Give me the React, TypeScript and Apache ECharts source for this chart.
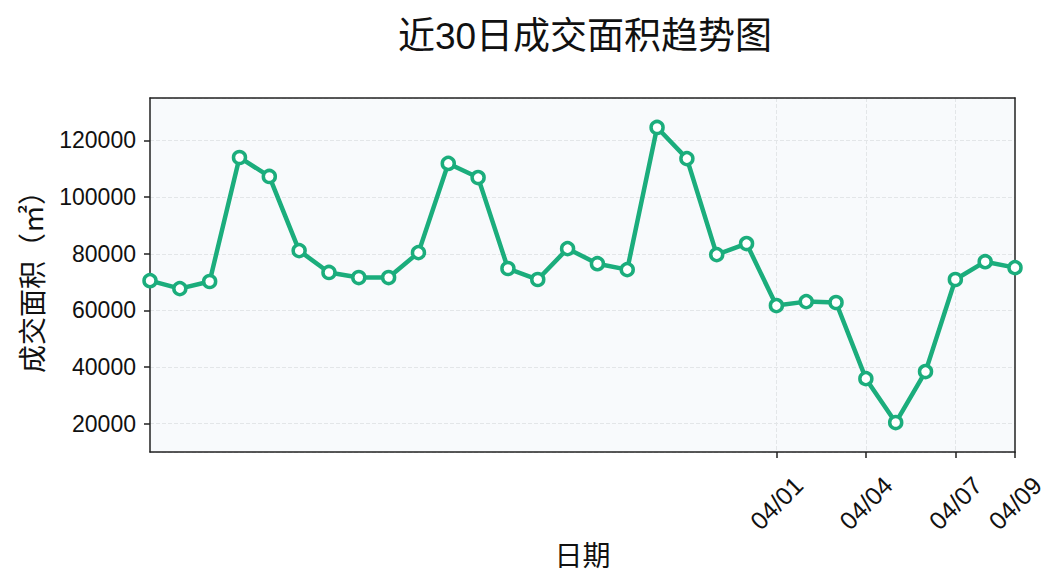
import React, { useEffect, useRef } from "react";
import * as echarts from "echarts";

const dates: string[] = [
  "03/11", "03/12", "03/13", "03/14", "03/15", "03/16", "03/17", "03/18", "03/19", "03/20",
  "03/21", "03/22", "03/23", "03/24", "03/25", "03/26", "03/27", "03/28", "03/29", "03/30",
  "03/31", "04/01", "04/02", "04/03", "04/04", "04/05", "04/06", "04/07", "04/08", "04/09",
];
const areas: number[] = [
  70500, 67700, 70200, 114000, 107300, 81100, 73400, 71600, 71600, 80400,
  111900, 106900, 74800, 70900, 81800, 76500, 74400, 124600, 113600, 79700,
  83600, 61700, 63100, 62800, 35900, 20400, 38400, 70900, 77200, 75100,
];
const labelDates: string[] = ["04/01", "04/04", "04/07", "04/09"];
const gridDates: string[] = ["04/01", "04/04", "04/07"];

const titleText = "近30日成交面积趋势图";
const yName = "成交面积（㎡）";
const xName = "日期";

const FONT = "'Liberation Sans', 'Noto Sans CJK SC', sans-serif";
const GREEN = "#1bad7c";
const DARK = "#222222";

export default function App() {
  const ref = useRef<HTMLDivElement>(null);
  useEffect(() => {
    if (!ref.current) return;
    const chart = echarts.init(ref.current, null, { renderer: "svg" });
    chart.setOption({
      animation: false,
      backgroundColor: "#ffffff",
      textStyle: { fontFamily: FONT },
      title: {
        text: titleText,
        left: 580,
        textAlign: "center",
        top: 13,
        textStyle: { fontSize: 37, fontWeight: "normal", color: "#111", fontFamily: FONT },
      },
      grid: {
        left: 150,
        right: 49,
        top: 98,
        bottom: 133,
        show: true,
        backgroundColor: "#f8fafc",
        borderWidth: 0,
      },
      xAxis: [
        {
          type: "category",
          data: dates,
          boundaryGap: false,
          name: xName,
          nameLocation: "middle",
          nameGap: 90,
          nameTextStyle: { fontSize: 28, color: "#111", fontFamily: FONT },
          axisLine: { lineStyle: { color: DARK, width: 1.5 } },
          axisTick: {
            show: true,
            length: 6,
            lineStyle: { color: DARK, width: 1.5 },
            interval: (i: number, v: string) => labelDates.includes(v),
          },
          axisLabel: {
            interval: (i: number, v: string) => labelDates.includes(v),
            rotate: 45,
            align: "center",
            verticalAlign: "middle",
            margin: 51,
            fontSize: 25,
            color: "#111",
            fontFamily: FONT,
          },
          splitLine: {
            show: true,
            interval: (i: number, v: string) => gridDates.includes(v),
            lineStyle: { type: "dashed", color: "#e3e6e8", width: 1 },
          },
        },
        {
          type: "category",
          data: dates,
          boundaryGap: false,
          position: "top",
          axisLine: { show: true, lineStyle: { color: DARK, width: 1.5 } },
          axisTick: { show: false },
          axisLabel: { show: false },
          splitLine: { show: false },
        },
      ],
      yAxis: [
        {
          type: "value",
          min: 10000,
          max: 135000,
          splitNumber: 6,
          name: yName,
          nameLocation: "middle",
          nameGap: 103,
          nameTextStyle: { fontSize: 28, color: "#111", fontFamily: FONT },
          axisLine: { show: true, lineStyle: { color: DARK, width: 1.5 } },
          axisTick: { show: true, length: 6, lineStyle: { color: DARK, width: 1.5 } },
          axisLabel: {
            showMinLabel: false,
            showMaxLabel: false,
            fontSize: 23,
            color: "#111",
            margin: 14,
            fontFamily: FONT,
            formatter: (v: number) => String(v),
          },
          splitLine: { show: true, lineStyle: { type: "dashed", color: "#e3e6e8", width: 1 } },
        },
        {
          type: "value",
          min: 10000,
          max: 135000,
          position: "right",
          axisLine: { show: true, lineStyle: { color: DARK, width: 1.5 } },
          axisTick: { show: false },
          axisLabel: { show: false },
          splitLine: { show: false },
        },
      ],
      series: [
        {
          type: "line",
          data: areas,
          xAxisIndex: 0,
          yAxisIndex: 0,
          symbol: "circle",
          symbolSize: 12,
          showSymbol: true,
          z: 5,
          lineStyle: { color: GREEN, width: 4.5 },
          itemStyle: { color: "#ffffff", borderColor: GREEN, borderWidth: 3.5 },
        },
      ],
    });
    return () => chart.dispose();
  }, []);
  return (
    <div
      ref={ref}
      style={{ position: "fixed", left: 0, top: 0, width: 1064, height: 585 }}
    />
  );
}
